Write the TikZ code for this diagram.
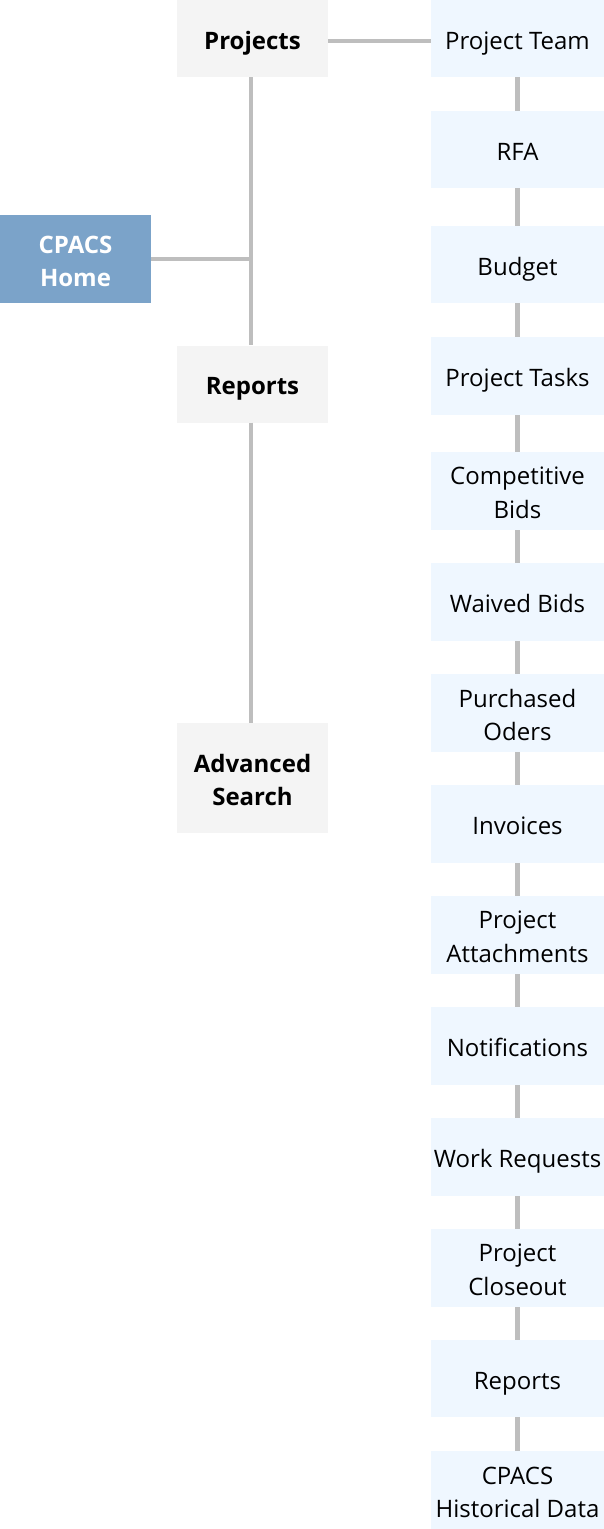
\documentclass[tikz,border=0pt]{standalone}
\usepackage{fontspec}
\setmainfont{Open Sans}
\definecolor{graybox}{RGB}{244,244,244}
\definecolor{bluebox}{RGB}{239,247,255}
\definecolor{homebox}{RGB}{123,163,201}
\definecolor{linkgray}{RGB}{190,190,190}
\newcommand{\ls}{\rule[-5.6pt]{0pt}{33pt}}
\tikzset{
  base/.style={inner sep=0pt, align=center, font=\fontsize{24}{33}\selectfont, text=black},
  leftbox/.style={base, fill=graybox, minimum width=151pt, minimum height=77pt, font=\fontsize{24}{33}\selectfont\bfseries},
  rightbox/.style={base, fill=bluebox, minimum width=173pt, minimum height=78pt},
  homestyle/.style={base, fill=homebox, text=white, minimum width=151pt, minimum height=88pt, font=\fontsize{24}{33}\selectfont\bfseries},
  link/.style={draw=linkgray, line width=4.5pt}
}
\begin{document}
\begin{tikzpicture}[x=1pt,y=-1pt]
\useasboundingbox (0,0) rectangle (604,1529);
\fill[white] (0,0) rectangle (604,1529);
% left column
\node[leftbox] (projects) at (252.5,38.5) {\ls Projects};
\node[leftbox] (reportsL) at (252.5,384) {\ls Reports};
\node[leftbox, minimum height=110pt] (adv) at (252.5,778) {\ls Advanced\\\ls Search};
\node[homestyle] (home) at (75.5,259) {\ls CPACS\\\ls Home};
% right column
\node[rightbox, minimum height=77pt] (team) at (517.5,38.5) {\ls Project Team};
\node[rightbox, minimum height=77pt] (rfa) at (517.5,149.5) {\ls RFA};
\node[rightbox, minimum height=77pt] (budget) at (517.5,264.5) {\ls Budget};
\node[rightbox] (tasks) at (517.5,376) {\ls Project Tasks};
\node[rightbox] (comp) at (517.5,491) {\ls Competitive\\\ls Bids};
\node[rightbox] (waived) at (517.5,602) {\ls Waived Bids};
\node[rightbox] (purch) at (517.5,713) {\ls Purchased\\\ls Oders};
\node[rightbox] (inv) at (517.5,824) {\ls Invoices};
\node[rightbox] (attach) at (517.5,935) {\ls Project\\\ls Attachments};
\node[rightbox] (notif) at (517.5,1046) {\ls Notifications};
\node[rightbox] (work) at (517.5,1157) {\ls Work Requests};
\node[rightbox] (closeout) at (517.5,1268) {\ls Project\\\ls Closeout};
\node[rightbox, minimum height=77pt] (reportsR) at (517.5,1378.5) {\ls Reports};
\node[rightbox] (hist) at (517.5,1490) {\ls CPACS\\\ls Historical Data};
% connectors
\coordinate (trunk) at ([xshift=-1.5pt]projects.south);
\draw[link] (trunk) -- (trunk |- reportsL.north);
\draw[link] (trunk |- reportsL.south) -- (trunk |- adv.north);
\draw[link] (home.east) -- (home.east -| trunk);
\draw[link] (projects.east |- 0,41) -- (team.west |- 0,41);
\foreach \a/\b in {team/rfa, rfa/budget, budget/tasks, tasks/comp, comp/waived, waived/purch, purch/inv, inv/attach, attach/notif, notif/work, work/closeout, closeout/reportsR, reportsR/hist}
  \draw[link] (\a.south) -- (\b.north);
\end{tikzpicture}
\end{document}
